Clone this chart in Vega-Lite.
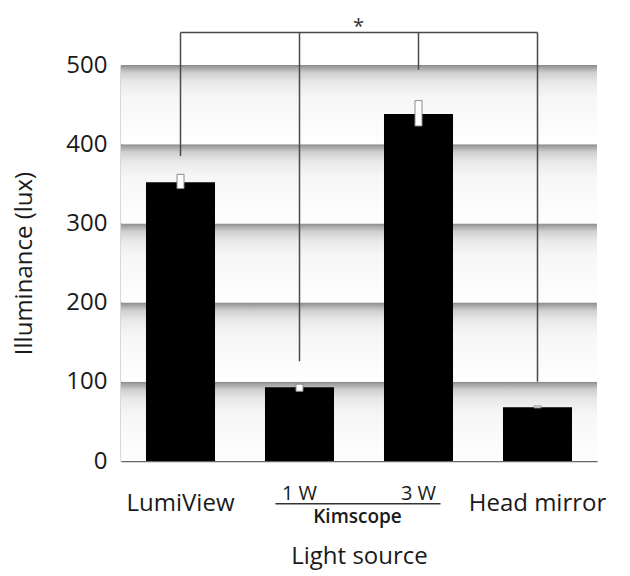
{
  "$schema": "https://vega.github.io/schema/vega-lite/v6.json",
  "autosize": "none",
  "width": 476,
  "height": 396,
  "padding": {"left": 121, "top": 65, "right": 33, "bottom": 115},
  "background": "white",
  "config": {"font": "Open Sans", "view": {"stroke": null}},
  "datasets": {
    "bars": [
      {"source": "LumiView", "illuminance": 352, "err_lo": 344, "err_hi": 362, "bracket_end": 385},
      {"source": "1 W", "illuminance": 93, "err_lo": 88, "err_hi": 97, "bracket_end": 126},
      {"source": "3 W", "illuminance": 438, "err_lo": 423, "err_hi": 455, "bracket_end": 494},
      {"source": "Head mirror", "illuminance": 68, "err_lo": 67, "err_hi": 69.5, "bracket_end": 100}
    ],
    "bands": [
      {"lo": 0, "hi": 100},
      {"lo": 100, "hi": 200},
      {"lo": 200, "hi": 300},
      {"lo": 300, "hi": 400},
      {"lo": 400, "hi": 500}
    ],
    "annotation": [
      {"group": "Kimscope", "significance": "*"}
    ]
  },
  "layer": [
    {
      "data": {"name": "bands"},
      "mark": {
        "type": "rect",
        "fill": {
          "gradient": "linear",
          "x1": 0, "y1": 0, "x2": 0, "y2": 1,
          "stops": [
            {"offset": 0, "color": "#888888"},
            {"offset": 0.03, "color": "#a2a2a2"},
            {"offset": 0.1, "color": "#cfcfcf"},
            {"offset": 0.22, "color": "#e9e9e9"},
            {"offset": 0.4, "color": "#f6f6f6"},
            {"offset": 1, "color": "#ffffff"}
          ]
        }
      },
      "encoding": {
        "x": {"value": 0},
        "x2": {"value": "width"},
        "y": {"field": "hi", "type": "quantitative", "scale": {"domain": [0, 500], "nice": false}},
        "y2": {"field": "lo"}
      }
    },
    {
      "data": {"name": "bars"},
      "layer": [
        {
          "mark": {"type": "bar", "color": "#000000"},
          "encoding": {
            "x": {
              "field": "source", "type": "nominal", "sort": null,
              "scale": {"paddingInner": 0.42, "paddingOuter": 0.21},
              "axis": {
                "title": "Light source",
                "titleFontSize": 24, "titleFontWeight": "normal", "titleColor": "#1a1a1a",
                "titleY": 102, "titleBaseline": "alphabetic",
                "labelAngle": 0,
                "labelFontSize": {"condition": {"test": "datum.value == '1 W' || datum.value == '3 W'", "value": 20}, "value": 24},
                "labelPadding": {"condition": {"test": "datum.value == '1 W' || datum.value == '3 W'", "value": 38}, "value": 49},
                "labelBaseline": "alphabetic",
                "labelColor": "#1a1a1a",
                "ticks": false,
                "domainColor": "#666666", "domainWidth": 1.5
              }
            },
            "y": {
              "field": "illuminance", "type": "quantitative",
              "axis": {
                "title": "Illuminance (lux)",
                "titleFontSize": 24, "titleFontWeight": "normal", "titleColor": "#1a1a1a",
                "titleX": -90, "titleBaseline": "alphabetic",
                "values": [0, 100, 200, 300, 400, 500],
                "labelFontSize": 24, "labelColor": "#1a1a1a", "labelPadding": 14,
                "ticks": false, "grid": false,
                "domainColor": "#666666", "domainWidth": 1.5
              }
            }
          }
        },
        {
          "mark": {"type": "bar", "width": 7, "fill": "#ffffff", "stroke": "#8a8a8a", "strokeWidth": 1},
          "encoding": {
            "x": {"field": "source", "type": "nominal", "sort": null},
            "y": {"field": "err_hi", "type": "quantitative"},
            "y2": {"field": "err_lo"}
          }
        },
        {
          "mark": {"type": "rule", "color": "#4a4a4a", "strokeWidth": 1.5},
          "encoding": {
            "x": {"field": "source", "type": "nominal", "sort": null},
            "y": {"field": "bracket_end", "type": "quantitative"},
            "y2": {"datum": 541}
          }
        }
      ]
    },
    {
      "data": {"name": "annotation"},
      "layer": [
        {
          "mark": {"type": "rule", "color": "#4a4a4a", "strokeWidth": 1.5},
          "encoding": {
            "x": {"datum": "LumiView"},
            "x2": {"datum": "Head mirror"},
            "y": {"datum": 541}
          }
        },
        {
          "mark": {"type": "text", "fontSize": 20, "baseline": "alphabetic", "align": "center", "dx": 59, "color": "#333333"},
          "encoding": {
            "text": {"field": "significance"},
            "x": {"datum": "1 W"},
            "y": {"datum": 541}
          }
        },
        {
          "mark": {"type": "rule", "color": "#333333", "strokeWidth": 1.5, "xOffset": -24, "x2Offset": 22},
          "encoding": {
            "x": {"datum": "1 W"},
            "x2": {"datum": "3 W"},
            "y": {"datum": -54}
          }
        },
        {
          "mark": {"type": "text", "fontSize": 19, "fontWeight": 600, "baseline": "alphabetic", "align": "center", "dx": 58, "color": "#1a1a1a"},
          "encoding": {
            "text": {"field": "group"},
            "x": {"datum": "1 W"},
            "y": {"datum": -78}
          }
        }
      ]
    }
  ]
}
